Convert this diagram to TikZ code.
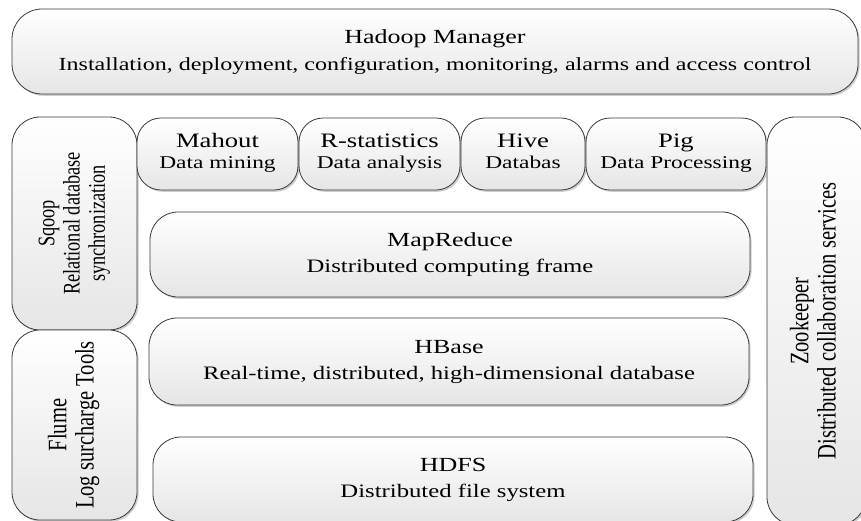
\documentclass[tikz,border=0pt]{standalone}
\usepackage{fontspec}
\setmainfont{Liberation Serif}
\usepackage{graphicx}
\usetikzlibrary{shadows}
\definecolor{edgec}{HTML}{3A3A3A}
\tikzset{
  layer/.style={draw=edgec, line width=0.8pt, rectangle, inner sep=0pt,
    top color=white, bottom color=black!10,
    drop shadow={shadow xshift=1.6pt, shadow yshift=-1.8pt, fill=black!35, opacity=0.55}},
  big/.style={layer, rounded corners=28pt},
  small/.style={layer, rounded corners=24pt, minimum height=72pt},
  vlabel/.style={rotate=90, inner sep=0pt, text=black},
}
\newcommand\htxt[5]{\scalebox{1.3}[1]{\fontsize{#1}{#3}\selectfont\begin{tabular}{@{}c@{}}#4\\\fontsize{#2}{#3}\selectfont #5\end{tabular}}}
\newcommand\vtxt[3]{\scalebox{1}[1.3]{\fontsize{#1}{#2}\selectfont\begin{tabular}{@{}c@{}}#3\end{tabular}}}
\begin{document}
\begin{tikzpicture}[x=1pt,y=-1pt]
\useasboundingbox (0,0) rectangle (861,520);
% top manager
\node[big, rounded corners=30pt, minimum width=846pt, minimum height=85pt] (hm) at (435,51.5)
  {\htxt{20}{18.5}{27}{Hadoop Manager}{Installation, deployment, configuration, monitoring, alarms and access control}};
% left column
\node[big, minimum width=125pt, minimum height=213pt] (sqoop) at (74.5,223.5) {};
\node[vlabel] (sqooptxt) at (sqoop.center) {\vtxt{18.3}{19.4}{Sqoop\\Relational database\\synchronization}};
\node[big, minimum width=125pt, minimum height=190pt] (flume) at (74.5,425) {};
\node[vlabel] (flumetxt) at (flume.center) {\vtxt{20.5}{21}{Flume\\Log surcharge Tools}};
% right column
\node[big, minimum width=99pt, minimum height=408pt] (zoo) at (816.5,321) {};
\node[vlabel] (zootxt) at (zoo.center) {\vtxt{20.5}{21}{Zookeeper\\Distributed collaboration services}};
% tools row
\node[small, minimum width=161pt] (mahout) at (217.5,154) {\htxt{20.5}{18}{21}{Mahout}{Data mining}};
\node[small, minimum width=161pt] (rstat) at (379.5,154) {\htxt{20.5}{18}{21}{R-statistics}{Data analysis}};
\node[small, minimum width=124pt] (hive) at (523,154) {\htxt{20.5}{18}{21}{Hive}{Databas}};
\node[small, minimum width=180pt] (pig) at (676,154) {\htxt{20.5}{18}{21}{Pig}{Data Processing}};
% core layers
\node[big, minimum width=600pt, minimum height=85pt] (mapred) at (450,254.5)
  {\htxt{20}{19}{26}{MapReduce}{Distributed computing frame}};
\node[big, minimum width=600pt, minimum height=87pt] (hbase) at (449,361.5)
  {\htxt{20}{19}{26}{HBase}{Real-time, distributed, high-dimensional database}};
\node[big, minimum width=600pt, minimum height=85pt] (hdfs) at (453,479.5)
  {\htxt{20}{19}{26}{HDFS}{Distributed file system}};
\end{tikzpicture}
\end{document}
